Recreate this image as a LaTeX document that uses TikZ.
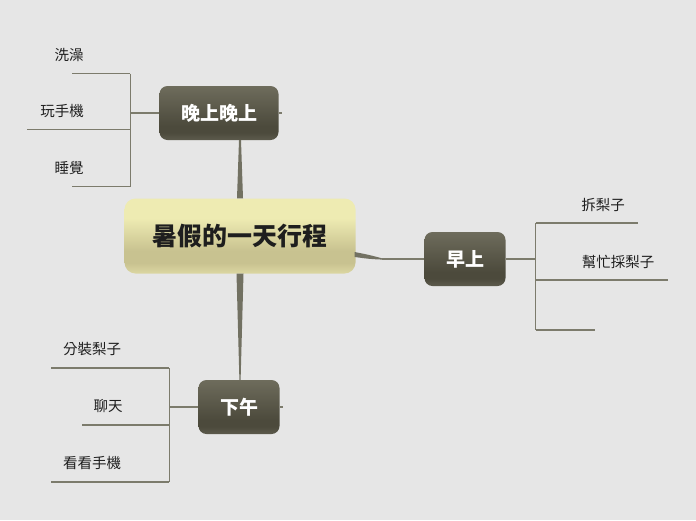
\documentclass[tikz,border=0pt]{standalone}
\usepackage{fontspec}
\setmainfont{Noto Sans CJK TC}
\usetikzlibrary{calc}

\definecolor{bgcol}{RGB}{230,230,230}
\definecolor{linecol}{RGB}{124,123,108}
\definecolor{darktop}{RGB}{110,108,92}
\definecolor{darkmid}{RGB}{76,74,60}
\definecolor{darkbot}{RGB}{92,90,76}
\definecolor{paletop}{RGB}{238,235,178}
\definecolor{palemid}{RGB}{200,194,144}
\definecolor{palebot}{RGB}{220,215,162}
\definecolor{inkcol}{RGB}{30,30,30}

\pgfdeclareverticalshading{darknode}{100bp}{color(0bp)=(darkbot); color(25bp)=(darkbot);
  color(32bp)=(darkmid); color(38bp)=(darkmid); color(75bp)=(darktop); color(100bp)=(darktop)}
\pgfdeclareverticalshading{palenode}{100bp}{color(0bp)=(palebot); color(25bp)=(palebot);
  color(32bp)=(palemid); color(40bp)=(palemid); color(62bp)=(paletop); color(100bp)=(paletop)}

\tikzset{
  topic/.style={rounded corners=11pt, shading=palenode, minimum width=231pt,
    minimum height=75pt, text=inkcol, font=\fontsize{25}{25}\selectfont\bfseries},
  subtopic/.style={rounded corners=8pt, shading=darknode, minimum height=54pt,
    text=white, font=\fontsize{19}{19}\selectfont\bfseries},
  leaf/.style={inner sep=0pt, text=inkcol, font=\fontsize{14.5}{14.5}\selectfont},
  branch/.style={draw=linecol, line width=1.2pt},
  taper/.style={fill=linecol!80!darkmid},
}

\begin{document}
\begin{tikzpicture}[x=1pt,y=-1pt]
  \fill[bgcol] (0,0) rectangle (696,520);
  \useasboundingbox (0,0) rectangle (696,520);

  % main topic and the three parts of the day
  \node[topic] (plan) at (240,236) {暑假的一天行程};
  \node[subtopic, minimum width=119pt] (night) at (219,113) {晚上晚上};
  \node[subtopic, minimum width=81pt] (morning) at (465,259) {早上};
  \node[subtopic, minimum width=81pt] (noon) at (239,407) {下午};

  % tapered links from the main topic
  \fill[taper] ($(plan.north)+(-3,0)$) -- ($(plan.north)+(3,0)$)
    -- ($(plan.north |- night.south)+(1,0)$) -- ($(plan.north |- night.south)+(-1,0)$) -- cycle;
  \fill[taper] ($(plan.south)+(-3.5,0)$) -- ($(plan.south)+(3.5,0)$)
    -- ($(plan.south |- noon.north)+(0.6,0)$) -- ($(plan.south |- noon.north)+(-0.6,0)$) -- cycle;
  \coordinate (mbend) at ($(morning.west)+(-42,0)$);
  \fill[taper] ($(plan.east)+(-1,16)$) .. controls ($(plan.east)+(14,19)$) .. ($(mbend)+(0,-0.6)$)
    -- ($(mbend)+(0,0.6)$) .. controls ($(plan.east)+(14,23)$) .. ($(plan.east)+(-1,21)$) -- cycle;
  \draw[branch] (mbend) -- (morning.west);

  % evening
  \coordinate (nightfork) at ($(night.west)+(-29,0)$);
  \draw[branch] (night.west) -- (nightfork);
  \draw[branch] (night.east) -- ++(3,0);
  \foreach \n/\t/\x/\y/\s in {bath/洗澡/69/55/72, phone/玩手機/62/111/27, sleep/睡覺/69/168/72} {
    \node[leaf] (\n) at (\x,\y) {\t};
    \coordinate (e\n) at (\s,\y+18.5);
    \draw[branch] (e\n) -- (e\n -| nightfork);
  }
  \draw[branch] (ebath -| nightfork) -- (esleep -| nightfork);

  % morning
  \coordinate (mornfork) at ($(morning.east)+(30,0)$);
  \draw[branch] (morning.east) -- (mornfork);
  \foreach \n/\t/\x/\y/\s in {peel/拆梨子/603/205/638, pick/幫忙採梨子/618/262/668} {
    \node[leaf] (\n) at (\x,\y) {\t};
    \coordinate (e\n) at (\s,\y+18);
    \draw[branch] (e\n -| mornfork) -- (e\n);
  }
  \coordinate (eblank) at (595,330);
  \draw[branch] (eblank -| mornfork) -- (eblank);
  \draw[branch] (epeel -| mornfork) -- (eblank -| mornfork);

  % afternoon
  \coordinate (noonfork) at ($(noon.west)+(-29,0)$);
  \draw[branch] (noon.west) -- (noonfork);
  \draw[branch] (noon.east) -- ++(3,0);
  \foreach \n/\t/\x/\y/\s in {pack/分裝梨子/92/349/51, chat/聊天/108/406/82, look/看看手機/92/463/51} {
    \node[leaf] (\n) at (\x,\y) {\t};
    \coordinate (e\n) at (\s,\y+19);
    \draw[branch] (e\n) -- (e\n -| noonfork);
  }
  \draw[branch] (epack -| noonfork) -- (elook -| noonfork);
\end{tikzpicture}
\end{document}
